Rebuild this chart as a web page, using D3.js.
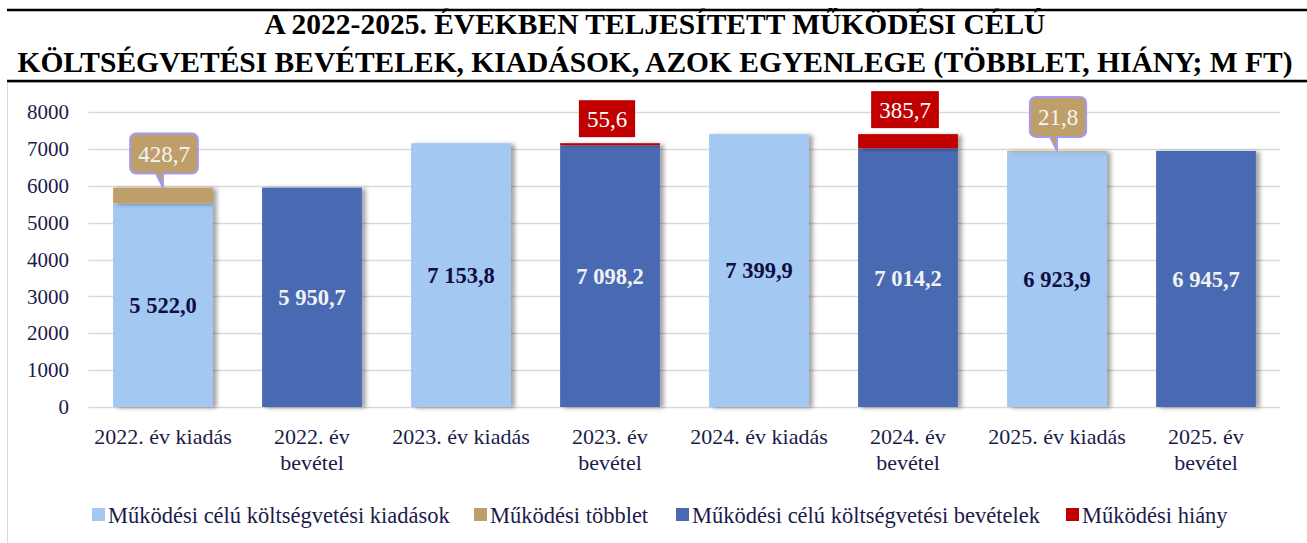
<!DOCTYPE html>
<html>
<head>
<meta charset="utf-8">
<script src="https://cdn.jsdelivr.net/npm/d3@7"></script>
<style>
  body { margin: 0; background: #fff; }
  svg text { font-family: "Liberation Serif", "DejaVu Serif", serif; }
</style>
</head>
<body>
<script>
var width = 1307
var height = 543

// data (M Ft)
var categories = ['2022. év kiadás', '2022. év bevétel', '2023. év kiadás', '2023. év bevétel',
                  '2024. év kiadás', '2024. év bevétel', '2025. év kiadás', '2025. év bevétel']
var kiadasok  = [5522.0, 0, 7153.8, 0, 7399.9, 0, 6923.9, 0]
var tobblet   = [428.7, 0, 0, 0, 0, 0, 21.8, 0]
var bevetelek = [0, 5950.7, 0, 7098.2, 0, 7014.2, 0, 6945.7]
var hiany     = [0, 0, 0, 55.6, 0, 385.7, 0, 0]
var seriesNames = ['Működési célú költségvetési kiadások', 'Működési többlet',
                   'Működési célú költségvetési bevételek', 'Működési hiány']
var yTicks = [0, 1000, 2000, 3000, 4000, 5000, 6000, 7000, 8000]
var titleLines = ['A 2022-2025. ÉVEKBEN TELJESÍTETT MŰKÖDÉSI CÉLÚ',
                  'KÖLTSÉGVETÉSI BEVÉTELEK, KIADÁSOK, AZOK EGYENLEGE (TÖBBLET, HIÁNY; M FT)']

var keys = ['kiadasok', 'tobblet', 'bevetelek', 'hiany']
var colors = ['#A3C8F1', '#BF9F69', '#4A6BB2', '#C00000']
var navy = '#1B1B4B'
var serif = '"Liberation Serif", "DejaVu Serif", serif'

var rows = categories.map((c, i) => ({
    cat: c, kiadasok: kiadasok[i], tobblet: tobblet[i], bevetelek: bevetelek[i], hiany: hiany[i]
}))

var hu = d3.formatLocale({ decimal: ',', thousands: ' ', grouping: [3], currency: ['', ' Ft'] })
var fmt = hu.format(',.1f')

var x = d3.scaleBand()
    .domain(categories)
    .range([88.5, 1280.5])
    .paddingInner(0.33)
    .paddingOuter(0.165)

var y = d3.scaleLinear()
    .domain([0, 8000])
    .range([407, 112])

var svg = d3.select('body').append('svg')
    .attr('width', width)
    .attr('height', height)
    .attr('font-family', serif)

var defs = svg.append('defs')
var shadow = defs.append('filter').attr('id', 'shadow')
    .attr('x', '-10%').attr('y', '-10%').attr('width', '130%').attr('height', '130%')
shadow.append('feDropShadow')
    .attr('dx', 4).attr('dy', 1).attr('stdDeviation', 2)
    .attr('flood-color', '#000').attr('flood-opacity', 0.35)

// frame + title rules
svg.append('rect')
    .attr('x', 7.5).attr('y', 82.5).attr('width', 1310).attr('height', 470)
    .attr('fill', 'none').attr('stroke', '#D9D9D9')

svg.append('line').attr('x1', 7).attr('x2', 1307).attr('y1', 10).attr('y2', 10)
    .attr('stroke', '#000').attr('stroke-width', 2.5)
svg.append('line').attr('x1', 7).attr('x2', 1307).attr('y1', 81).attr('y2', 81)
    .attr('stroke', '#000').attr('stroke-width', 2.5)

svg.append('g').selectAll('text')
    .data(titleLines)
    .join('text')
    .attr('x', 655)
    .attr('y', (d, i) => 34 + i * 38)
    .attr('text-anchor', 'middle')
    .attr('font-size', 29.5)
    .attr('font-weight', 'bold')
    .attr('fill', '#000')
    .text(d => d)

// grid
svg.append('g').selectAll('line')
    .data(yTicks)
    .join('line')
    .attr('x1', 88.5).attr('x2', 1280.5)
    .attr('y1', d => Math.round(y(d)) + 0.5)
    .attr('y2', d => Math.round(y(d)) + 0.5)
    .attr('stroke', '#D9D9D9')
    .attr('stroke-width', 1.5)

var yAxis = svg.append('g')
    .attr('transform', 'translate(77,0)')
    .call(d3.axisLeft(y).tickValues(yTicks).tickSize(0).tickPadding(8).tickFormat(d3.format('d')))
yAxis.attr('font-family', serif)
yAxis.select('.domain').remove()
yAxis.selectAll('text')
    .attr('font-size', 21)
    .attr('fill', navy)

// bars
var stacked = d3.stack().keys(keys)(rows)

svg.append('g').selectAll('g')
    .data(stacked)
    .join('g')
    .attr('fill', (d, i) => colors[i])
    .attr('filter', 'url(#shadow)')
    .selectAll('rect')
    .data(d => d.filter(p => p[1] > p[0]))
    .join('rect')
    .attr('x', d => x(d.data.cat))
    .attr('width', x.bandwidth())
    .attr('y', d => y(d[1]))
    .attr('height', d => y(d[0]) - y(d[1]))

// value labels inside main bars
svg.append('g').selectAll('text')
    .data(rows)
    .join('text')
    .attr('x', d => x(d.cat) + x.bandwidth() / 2)
    .attr('y', d => y((d.kiadasok + d.bevetelek) / 2))
    .attr('dy', '0.35em')
    .attr('text-anchor', 'middle')
    .attr('font-size', 22.5)
    .attr('font-weight', 'bold')
    .attr('fill', d => d.kiadasok > 0 ? '#0E0E40' : '#F2F2F2')
    .text(d => fmt(d.kiadasok + d.bevetelek))

// többlet callouts
var surplus = rows.filter(d => d.tobblet > 0)
surplus.forEach(d => {
    var cx = x(d.cat) + x.bandwidth() / 2
    var top = y(d.kiadasok + d.tobblet)
    var g = svg.append('g')
    var t = g.append('text')
        .attr('text-anchor', 'middle')
        .attr('font-size', 23)
        .attr('fill', '#F4F4F4')
        .text(fmt(d.tobblet))
    var w = t.node().getComputedTextLength() + 16
    var h = 40, r = 6
    var bottom = top - 14
    var x0 = cx - w / 2 + 1, x1 = cx + w / 2 + 1, y0 = bottom - h
    var p = d3.path()
    p.moveTo(x0 + r, y0)
    p.lineTo(x1 - r, y0)
    p.arcTo(x1, y0, x1, y0 + r, r)
    p.lineTo(x1, bottom - r)
    p.arcTo(x1, bottom, x1 - r, bottom, r)
    p.lineTo(cx, bottom)
    p.lineTo(cx, top)
    p.lineTo(cx - 7, bottom)
    p.lineTo(x0 + r, bottom)
    p.arcTo(x0, bottom, x0, bottom - r, r)
    p.lineTo(x0, y0 + r)
    p.arcTo(x0, y0, x0 + r, y0, r)
    p.closePath()
    g.insert('path', 'text')
        .attr('d', p.toString())
        .attr('fill', colors[1])
        .attr('stroke', '#A898F5')
        .attr('stroke-width', 2)
    t.attr('x', cx + 1).attr('y', y0 + h / 2).attr('dy', '0.35em')
})

// hiány labels
var deficit = rows.filter(d => d.hiany > 0)
deficit.forEach(d => {
    var cx = x(d.cat) + x.bandwidth() / 2 - 3
    var top = y(d.bevetelek + d.hiany)
    var g = svg.append('g')
    var t = g.append('text')
        .attr('text-anchor', 'middle')
        .attr('font-size', 23)
        .attr('fill', '#FFFFFF')
        .text(fmt(d.hiany))
    var w = t.node().getComputedTextLength() + 16
    var h = 37
    var bottom = top - 6
    g.insert('rect', 'text')
        .attr('x', cx - w / 2).attr('y', bottom - h)
        .attr('width', w).attr('height', h)
        .attr('fill', colors[3])
    t.attr('x', cx).attr('y', bottom - h / 2).attr('dy', '0.35em')
})

// category labels, long ones broken before the last word
var xLab = svg.append('g').selectAll('text')
    .data(categories)
    .join('text')
    .attr('x', d => x(d) + x.bandwidth() / 2)
    .attr('y', 444)
    .attr('text-anchor', 'middle')
    .attr('font-size', 22)
    .attr('fill', navy)

xLab.each(function(d) {
    var el = d3.select(this)
    if (d.length <= 15) { el.text(d); return }
    var words = d.split(' ')
    var last = words.pop()
    el.append('tspan').attr('x', el.attr('x')).text(words.join(' '))
    el.append('tspan').attr('x', el.attr('x')).attr('dy', 26).text(last)
})

// legend
var legendX = [92, 474, 676, 1066]
var legend = svg.append('g').selectAll('g')
    .data(seriesNames)
    .join('g')
    .attr('transform', (d, i) => `translate(${legendX[i]},515)`)
legend.append('rect')
    .attr('x', 0).attr('y', -7).attr('width', 13).attr('height', 13)
    .attr('fill', (d, i) => colors[i])
legend.append('text')
    .attr('x', 16).attr('dy', '0.35em')
    .attr('font-size', 22.5)
    .attr('fill', navy)
    .text(d => d)
</script>
</body>
</html>
